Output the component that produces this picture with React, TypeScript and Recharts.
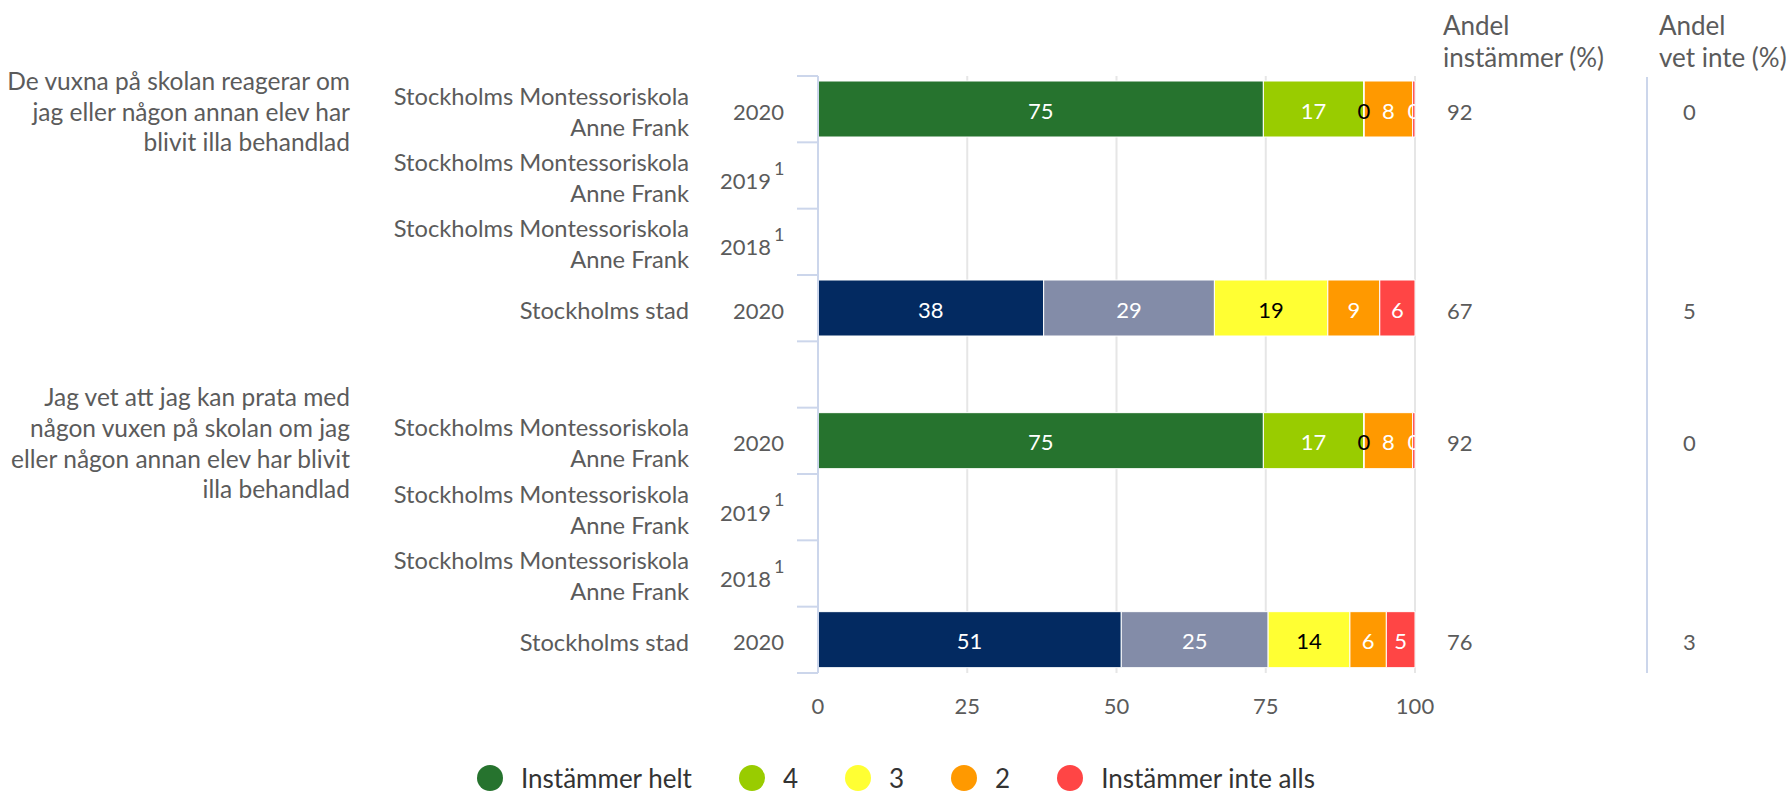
import React from "react"
import { BarChart, Bar, XAxis, YAxis, CartesianGrid, LabelList, Cell } from "recharts"

const W = 1789
const H = 792
const PLOT_LEFT = 818
const PLOT_RIGHT = 1415
const PLOT_TOP = 76
const PLOT_BOTTOM = 673
const FONT = "Lato, 'Open Sans', sans-serif"
const TEXT = "#5b5b5b"
const AXIS = "#ccd6eb"

// rows of the chart (index 4 is the empty gap between the two questions)
const rowIds = ["r0", "r1", "r2", "r3", "gap", "r5", "r6", "r7", "r8"]
const units = [
  ["Stockholms Montessoriskola", "Anne Frank"],
  ["Stockholms Montessoriskola", "Anne Frank"],
  ["Stockholms Montessoriskola", "Anne Frank"],
  ["Stockholms stad"],
  [],
  ["Stockholms Montessoriskola", "Anne Frank"],
  ["Stockholms Montessoriskola", "Anne Frank"],
  ["Stockholms Montessoriskola", "Anne Frank"],
  ["Stockholms stad"],
]
const years = ["2020", "2019", "2018", "2020", "", "2020", "2019", "2018", "2020"]
const footnotes = ["", "1", "1", "", "", "", "1", "1", ""]
const isStad = [false, false, false, true, false, false, false, false, true]

const questionRows = [0, 5]
const questionLines = [
  ["De vuxna på skolan reagerar om", "jag eller någon annan elev har", "blivit illa behandlad"],
  ["Jag vet att jag kan prata med", "någon vuxen på skolan om jag", "eller någon annan elev har blivit", "illa behandlad"],
]

const instammerHelt = [74.6, null, null, 37.8, null, 74.6, null, null, 50.8]
const fyra = [16.8, null, null, 28.6, null, 16.8, null, null, 24.6]
const tre = [0.1, null, null, 19.0, null, 0.1, null, null, 13.7]
const tva = [8.1, null, null, 8.7, null, 8.1, null, null, 6.1]
const inteAlls = [0.4, null, null, 5.9, null, 0.4, null, null, 4.8]

const andelInstammer = ["92", "", "", "67", "", "92", "", "", "76"]
const andelVetInte = ["0", "", "", "5", "", "0", "", "", "3"]

const xTicks = [0, 25, 50, 75, 100]

const series = [
  { key: "helt", name: "Instämmer helt", color: "#26732e", stadColor: "#032a61", label: "#ffffff" },
  { key: "fyra", name: "4", color: "#99cc00", stadColor: "#838ca8", label: "#ffffff" },
  { key: "tre", name: "3", color: "#ffff33", stadColor: "#ffff33", label: "#000000" },
  { key: "tva", name: "2", color: "#ff9900", stadColor: "#ff9900", label: "#ffffff" },
  { key: "inte", name: "Instämmer inte alls", color: "#ff4545", stadColor: "#ff4545", label: "#ffffff" },
]

const data = rowIds.map((id, i) => ({
  id,
  helt: instammerHelt[i],
  fyra: fyra[i],
  tre: tre[i],
  tva: tva[i],
  inte: inteAlls[i],
}))

const BAND = (PLOT_BOTTOM - PLOT_TOP) / rowIds.length

function LeftTick(props: any) {
  const { y, index } = props
  const i = index as number
  const top = y - BAND / 2
  const q = questionRows.indexOf(i)
  const lines = units[i] || []
  return (
    <g fontFamily={FONT} fill={TEXT}>
      <line x1={797} x2={PLOT_LEFT} y1={top} y2={top} stroke={AXIS} strokeWidth={2} />
      {i === rowIds.length - 1 && (
        <line x1={797} x2={PLOT_LEFT} y1={y + BAND / 2} y2={y + BAND / 2} stroke={AXIS} strokeWidth={2} />
      )}
      {lines.map((l, k) => (
        <text key={k} x={689} y={y + 2 + (k - (lines.length - 1) / 2) * 31} textAnchor="end" dominantBaseline="central" fontSize={23.7}>
          {l}
        </text>
      ))}
      {years[i] && (
        <text x={footnotes[i] ? 771 : 784} y={footnotes[i] ? y + 5 : y + 2} textAnchor="end" dominantBaseline="central" fontSize={22}>
          {years[i]}
        </text>
      )}
      {footnotes[i] && (
        <text x={774} y={y - 8} dominantBaseline="central" fontSize={18}>
          {footnotes[i]}
        </text>
      )}
      {q >= 0 &&
        questionLines[q].map((l, k) => (
          <text key={"q" + k} x={350} y={y + 2 + (k - (questionLines[q].length - 1) / 2) * 30.7} textAnchor="end" dominantBaseline="central" fontSize={24.5}>
            {l}
          </text>
        ))}
    </g>
  )
}

function RightTick(props: any) {
  const { y, index } = props
  const i = index as number
  return (
    <g fontFamily={FONT} fill={TEXT} fontSize={22}>
      <text x={1447} y={y + 2} dominantBaseline="central">{andelInstammer[i]}</text>
      <text x={1683} y={y + 2} dominantBaseline="central">{andelVetInte[i]}</text>
    </g>
  )
}

function XTick(props: any) {
  const { x, payload } = props
  return (
    <text x={x} y={705} textAnchor="middle" dominantBaseline="central" fontFamily={FONT} fontSize={22} fill={TEXT}>
      {payload.value}
    </text>
  )
}

function makeLabel(color: string, key: string) {
  return (props: any) => {
    const { x, y, width, height, value, index } = props
    if (value === null || value === undefined) return null
    const id = `clip-${key}-${index}`
    return (
      <g>
        <defs>
          <clipPath id={id}>
            <rect x={PLOT_LEFT} y={PLOT_TOP} width={PLOT_RIGHT - PLOT_LEFT} height={PLOT_BOTTOM - PLOT_TOP} />
          </clipPath>
        </defs>
        <text
          x={x + width / 2}
          y={y + height / 2 + 1}
          textAnchor="middle"
          dominantBaseline="central"
          fontFamily={FONT}
          fontSize={22}
          fill={color}
          clipPath={`url(#${id})`}
        >
          {Math.round(value)}
        </text>
      </g>
    )
  }
}

export default function App() {
  return (
    <div style={{ position: "absolute", left: 0, top: 0, width: W, height: H, background: "#fff" }}>
      <BarChart
        width={W}
        height={H}
        data={data}
        layout="vertical"
        margin={{ top: PLOT_TOP, right: 0, bottom: 0, left: 0 }}
        barSize={56}
      >
        <CartesianGrid horizontal={false} stroke="#e6e6e6" strokeWidth={2} yAxisId="left" />
        <XAxis
          type="number"
          domain={[0, 100]}
          ticks={xTicks}
          axisLine={false}
          tickLine={false}
          height={H - PLOT_BOTTOM}
          tick={<XTick />}
        />
        <YAxis
          yAxisId="left"
          type="category"
          dataKey="id"
          width={PLOT_LEFT}
          interval={0}
          axisLine={{ stroke: AXIS, strokeWidth: 2 }}
          tickLine={false}
          tick={<LeftTick />}
        />
        <YAxis
          yAxisId="right"
          orientation="right"
          type="category"
          dataKey="id"
          width={W - PLOT_RIGHT}
          interval={0}
          axisLine={false}
          tickLine={false}
          tick={<RightTick />}
        />
        {series.map((s) => (
          <Bar
            key={s.key}
            yAxisId="left"
            dataKey={s.key}
            name={s.name}
            stackId="a"
            fill={s.color}
            stroke="#ffffff"
            strokeWidth={1}
            isAnimationActive={false}
          >
            {data.map((_, i) => (
              <Cell key={i} fill={isStad[i] ? s.stadColor : s.color} />
            ))}
            <LabelList dataKey={s.key} content={makeLabel(s.label, s.key)} />
          </Bar>
        ))}
      </BarChart>

      <svg width={W} height={H} style={{ position: "absolute", left: 0, top: 0, pointerEvents: "none" }}>
        <g fontFamily={FONT} fill={TEXT} fontSize={26}>
          <text x={1443} y={25} dominantBaseline="central">Andel</text>
          <text x={1443} y={57} dominantBaseline="central">instämmer (%)</text>
          <text x={1659} y={25} dominantBaseline="central">Andel</text>
          <text x={1659} y={57} dominantBaseline="central">vet inte (%)</text>
        </g>
        <line x1={1647} x2={1647} y1={PLOT_TOP + 1} y2={PLOT_BOTTOM} stroke={AXIS} strokeWidth={2} />
      </svg>

      <div
        style={{
          position: "absolute",
          left: 0,
          top: 765,
          width: W,
          display: "flex",
          justifyContent: "center",
          paddingLeft: 50,
          boxSizing: "border-box",
          fontFamily: FONT,
          fontSize: 26,
          color: "#333",
        }}
      >
        {series.map((s) => (
          <div key={s.key} style={{ display: "flex", alignItems: "center", marginRight: 47 }}>
            <span style={{ width: 26, height: 26, borderRadius: 13, background: s.color, marginRight: 18 }} />
            <span style={{ lineHeight: "26px" }}>{s.name}</span>
          </div>
        ))}
      </div>
    </div>
  )
}
